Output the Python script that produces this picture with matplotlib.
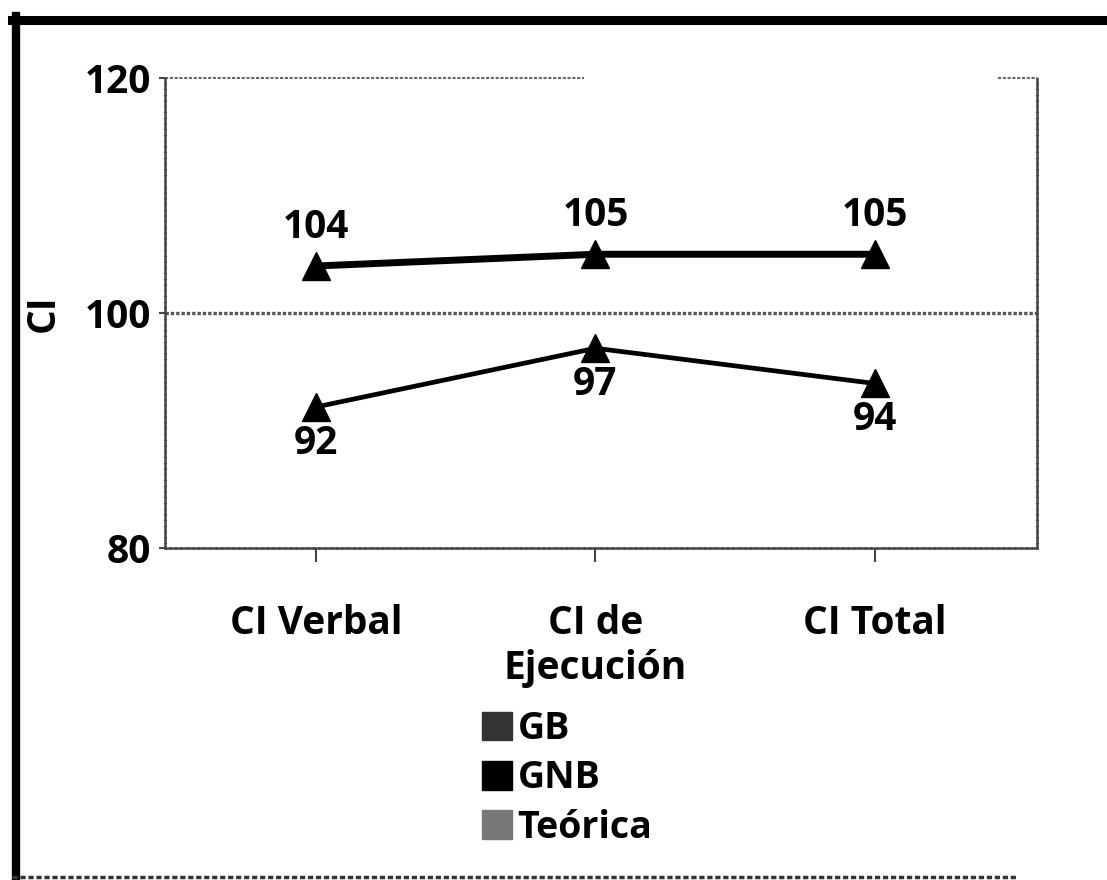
import matplotlib
matplotlib.use("Agg")
import matplotlib.pyplot as plt
from matplotlib.lines import Line2D
from matplotlib.patches import Patch

plt.rcParams['font.family'] = ['Open Sans', 'DejaVu Sans']

# data
categorias = ["CI Verbal", "CI de\nEjecución", "CI Total"]
gb = [92, 97, 94]
gnb = [104, 105, 105]
teorica = [100, 100, 100]
series_nombres = ["GB", "GNB", "Teórica"]
y_ticks = [80, 100, 120]

fig = plt.figure(figsize=(11.07, 8.8), dpi=100)
ax = fig.add_axes([165 / 1107, 1 - 548 / 880, 872 / 1107, 470 / 880])

x = list(range(len(categorias)))

# Teórica drawn as the grey line at 100
ax.plot([-0.54, 2.58], [teorica[0], teorica[-1]], color="#555555", lw=2.4,
        ls=(0, (1, 0.6)), zorder=2)
ax.plot(x, gb, color="black", lw=3.4, marker="^", ms=20, zorder=3)
ax.plot(x, gnb, color="black", lw=5.0, marker="^", ms=20, zorder=3)

lab_kw = dict(fontsize=28, fontweight="bold", ha="center")
for xi, v in zip(x, gnb):
    ax.annotate(str(v), (xi, v), xytext=(0, 14), textcoords="offset points",
                va="bottom", **lab_kw)
for xi, v in zip(x, gb):
    ax.annotate(str(v), (xi, v), xytext=(0, -12), textcoords="offset points",
                va="top", **lab_kw)

ax.set_xlim(-0.54, 2.58)
ax.set_ylim(80, 120)
ax.set_yticks(y_ticks)
ax.set_yticklabels([str(t) for t in y_ticks], fontsize=28, fontweight="bold")
ax.set_xticks(x)
ax.set_xticklabels(categorias, fontsize=28, fontweight="bold",
                   linespacing=1.2)
ax.tick_params(axis="x", length=10, width=1.5, color="#444444", direction="out",
               pad=30)
ax.tick_params(axis="y", length=4, width=1.5, color="#444444", pad=6)
ax.set_ylabel("CI", fontsize=28, fontweight="bold", labelpad=16)

for side in ["left", "right", "bottom"]:
    ax.spines[side].set_color("#444444")
    ax.spines[side].set_linewidth(1.8)
    ax.spines[side].set_linestyle((0, (1.5, 0.8)))
ax.spines["top"].set_visible(False)
# the top frame only shows in pieces in the scan
for a, b in [(0.0, 0.48), (0.955, 1.0)]:
    ax.plot([a, b], [1, 1], transform=ax.transAxes, color="#666666", lw=1.5,
            ls=(0, (1.5, 0.8)), clip_on=False)

handles = [Patch(facecolor="#333333", edgecolor="#333333"),
           Patch(facecolor="black", edgecolor="black"),
           Patch(facecolor="#777777", edgecolor="#777777")]
fig.legend(handles, series_nombres, loc="upper left",
           bbox_to_anchor=(482 / 1107, 1 - 710 / 880), frameon=False,
           prop={"size": 27, "weight": "bold"}, handlelength=0.8,
           handleheight=0.8, handletextpad=0.15, labelspacing=0.3,
           borderpad=0, borderaxespad=0)

# outer scan frame
fig.add_artist(Line2D([16 / 1107, 16 / 1107], [1 - 16 / 880, 1 - 878 / 880],
                      color="black", lw=6, transform=fig.transFigure))
fig.add_artist(Line2D([12 / 1107, 1.0], [1 - 20 / 880, 1 - 20 / 880],
                      color="black", lw=6.5, transform=fig.transFigure))
fig.add_artist(Line2D([12 / 1107, 0.92], [1 - 877 / 880, 1 - 877 / 880],
                      color="#333333", lw=2.5, ls=(0, (1.5, 0.8)),
                      transform=fig.transFigure))

fig.savefig("out.png", dpi=100)
